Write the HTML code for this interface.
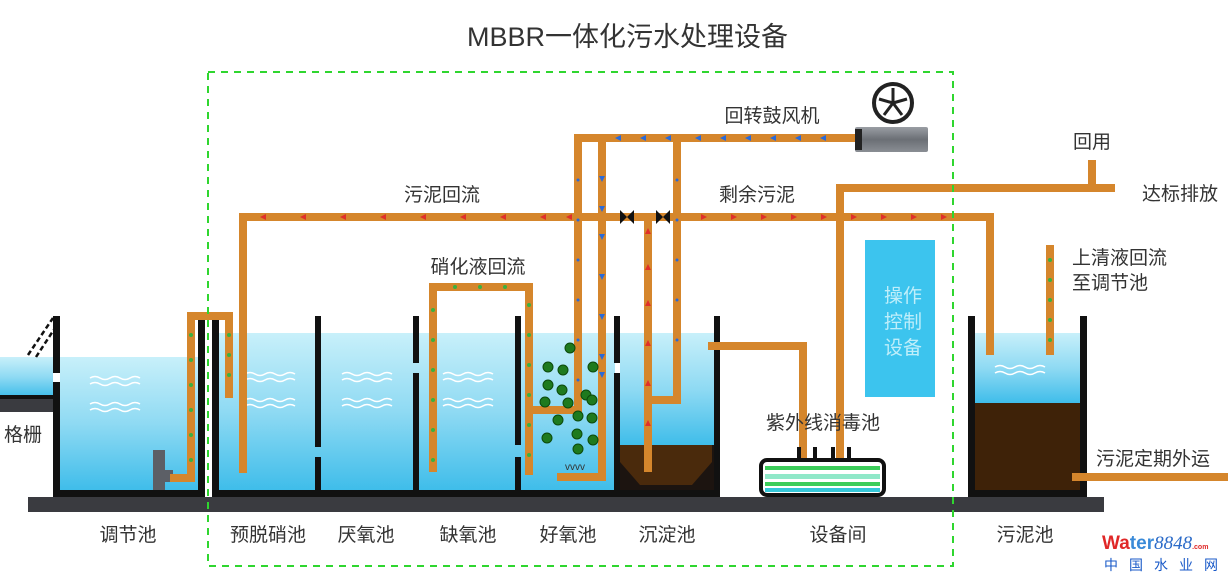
<!DOCTYPE html>
<html><head><meta charset="utf-8"><style>
html,body{margin:0;padding:0;background:#fff;}
svg{display:block;}
text{font-family:"Liberation Sans","Noto Sans CJK SC",sans-serif;fill:#333;}
</style></head><body>
<svg width="1230" height="579" viewBox="0 0 1230 579" xmlns="http://www.w3.org/2000/svg">
<defs>
<linearGradient id="w" x1="0" y1="0" x2="0" y2="1">
<stop offset="0" stop-color="#c8f0fa"/><stop offset="0.5" stop-color="#8fdaf3"/><stop offset="1" stop-color="#3fbdea"/>
</linearGradient>
<linearGradient id="bl" x1="0" y1="0" x2="0" y2="1">
<stop offset="0" stop-color="#9a9ea4"/><stop offset="0.5" stop-color="#6b6f75"/><stop offset="1" stop-color="#8a8e94"/>
</linearGradient>
</defs>
<rect width="1230" height="579" fill="#fff"/>
<text x="467" y="46" font-size="27" textLength="321" lengthAdjust="spacingAndGlyphs" fill="#2a2a2a">MBBR一体化污水处理设备</text>

<rect x="0" y="357" width="53" height="40" fill="url(#w)"/>
<rect x="60" y="357" width="138" height="133" fill="url(#w)"/>
<rect x="219" y="333" width="396" height="157" fill="url(#w)"/>
<rect x="620" y="333" width="95" height="112" fill="url(#w)"/>
<rect x="975" y="333" width="105" height="70" fill="url(#w)"/>
<rect x="620" y="445" width="95" height="45" fill="#1c1410"/>
<polygon points="620,445 712,445 712,462 692,485 640,485 620,462" fill="#4a2a0c"/>
<rect x="975" y="403" width="105" height="87" fill="#3e2208"/>

<rect x="28" y="497" width="1076" height="15" fill="#3a3b40"/>
<rect x="0" y="397" width="53" height="15" fill="#3a3b40"/>
<rect x="0" y="395" width="53" height="4" fill="#111"/>

<rect x="53" y="490" width="667" height="7" fill="#111"/>
<rect x="968" y="490" width="117" height="7" fill="#111"/>

<g fill="#111">
<rect x="53" y="316" width="7" height="57"/><rect x="53" y="382" width="7" height="115"/>
<rect x="198" y="316" width="7" height="181"/><rect x="212" y="316" width="7" height="181"/>
<rect x="315" y="316" width="6" height="131"/><rect x="315" y="457" width="6" height="40"/>
<rect x="413" y="316" width="6" height="47"/><rect x="413" y="373" width="6" height="124"/>
<rect x="515" y="316" width="6" height="129"/><rect x="515" y="457" width="6" height="40"/>
<rect x="614" y="316" width="6" height="47"/><rect x="614" y="373" width="6" height="124"/>
<rect x="714" y="316" width="6" height="181"/>
<rect x="968" y="316" width="7" height="181"/><rect x="1080" y="316" width="7" height="181"/>
</g>
<rect x="205" y="316" width="7" height="181" fill="#fff"/>
<g stroke="#111" stroke-width="2.5" stroke-dasharray="5,3"><line x1="28" y1="355" x2="53" y2="318"/><line x1="36" y1="357" x2="55" y2="328"/></g>

<g fill="none" stroke="#fff" stroke-width="1.6" opacity="0.9">
<path id="wv" d="M0,0 q5,-3 10,0 t10,0 t10,0 t10,0 t10,0"/>
</g>
<g fill="none" stroke="#fff" stroke-width="1.6">
<use href="#wv" x="90" y="378"/><use href="#wv" x="90" y="384"/><use href="#wv" x="90" y="404"/><use href="#wv" x="90" y="410"/>
<use href="#wv" x="245" y="374"/><use href="#wv" x="245" y="380"/><use href="#wv" x="245" y="400"/><use href="#wv" x="245" y="406"/>
<use href="#wv" x="342" y="374"/><use href="#wv" x="342" y="380"/><use href="#wv" x="342" y="400"/><use href="#wv" x="342" y="406"/>
<use href="#wv" x="443" y="374"/><use href="#wv" x="443" y="380"/><use href="#wv" x="443" y="400"/><use href="#wv" x="443" y="406"/>
<use href="#wv" x="995" y="367"/><use href="#wv" x="995" y="373"/>
</g>

<rect x="153" y="450" width="12" height="40" fill="#5c5f66"/><rect x="163" y="470" width="10" height="12" fill="#5c5f66"/>

<g fill="none" stroke="#d5862c" stroke-width="8" stroke-linejoin="miter">
<polyline points="170,478 191,478 191,316 229,316 229,398"/>
<polyline points="243,473 243,217 990,217 990,355"/>
<polyline points="433,472 433,287 529,287 529,475"/>
<polyline points="533,410 578,410 578,138 855,138"/>
<polyline points="557,477 602,477 602,138"/>
<polyline points="648,472 648,217"/>
<polyline points="650,400 677,400 677,138"/>
<polyline points="708,346 803,346 803,458"/>
<polyline points="840,458 840,188 1115,188"/>
<polyline points="1092,188 1092,160"/>
<polyline points="1050,245 1050,355"/>
<polyline points="1072,477 1228,477"/>
</g>
<g fill="#e0302a">
<polygon points="260,217 266,214 266,220"/><polygon points="300,217 306,214 306,220"/><polygon points="340,217 346,214 346,220"/><polygon points="380,217 386,214 386,220"/><polygon points="420,217 426,214 426,220"/><polygon points="460,217 466,214 466,220"/><polygon points="500,217 506,214 506,220"/><polygon points="540,217 546,214 546,220"/><polygon points="566,217 572,214 572,220"/>
<polygon points="707,217 701,214 701,220"/><polygon points="737,217 731,214 731,220"/><polygon points="767,217 761,214 761,220"/><polygon points="797,217 791,214 791,220"/><polygon points="827,217 821,214 821,220"/><polygon points="857,217 851,214 851,220"/><polygon points="887,217 881,214 881,220"/><polygon points="917,217 911,214 911,220"/><polygon points="947,217 941,214 941,220"/>
<polygon points="648,228 645,234 651,234"/><polygon points="648,264 645,270 651,270"/><polygon points="648,300 645,306 651,306"/><polygon points="648,340 645,346 651,346"/><polygon points="648,380 645,386 651,386"/><polygon points="648,420 645,426 651,426"/>
</g>
<g fill="#2a6ad8">
<polygon points="615,138 621,135 621,141"/><polygon points="640,138 646,135 646,141"/><polygon points="665,138 671,135 671,141"/><polygon points="695,138 701,135 701,141"/><polygon points="720,138 726,135 726,141"/><polygon points="745,138 751,135 751,141"/><polygon points="770,138 776,135 776,141"/><polygon points="795,138 801,135 801,141"/><polygon points="820,138 826,135 826,141"/>
<polygon points="602,182 599,176 605,176"/><polygon points="602,212 599,206 605,206"/><polygon points="602,240 599,234 605,234"/><polygon points="602,280 599,274 605,274"/><polygon points="602,320 599,314 605,314"/><polygon points="602,360 599,354 605,354"/><polygon points="602,378 599,372 605,372"/>
<circle cx="578" cy="180" r="1.5"/><circle cx="578" cy="220" r="1.5"/><circle cx="578" cy="260" r="1.5"/><circle cx="578" cy="300" r="1.5"/><circle cx="578" cy="340" r="1.5"/><circle cx="578" cy="380" r="1.5"/>
<circle cx="677" cy="180" r="1.5"/><circle cx="677" cy="220" r="1.5"/><circle cx="677" cy="260" r="1.5"/><circle cx="677" cy="300" r="1.5"/><circle cx="677" cy="340" r="1.5"/>
</g>
<g fill="#3bb040">
<circle cx="191" cy="335" r="2"/><circle cx="191" cy="360" r="2"/><circle cx="191" cy="385" r="2"/><circle cx="191" cy="410" r="2"/><circle cx="191" cy="435" r="2"/><circle cx="191" cy="460" r="2"/>
<circle cx="229" cy="335" r="2"/><circle cx="229" cy="355" r="2"/><circle cx="229" cy="375" r="2"/>
<circle cx="433" cy="310" r="2"/><circle cx="433" cy="340" r="2"/><circle cx="433" cy="370" r="2"/><circle cx="433" cy="400" r="2"/><circle cx="433" cy="430" r="2"/><circle cx="433" cy="460" r="2"/>
<circle cx="455" cy="287" r="2"/><circle cx="480" cy="287" r="2"/><circle cx="505" cy="287" r="2"/>
<circle cx="529" cy="305" r="2"/><circle cx="529" cy="335" r="2"/><circle cx="529" cy="365" r="2"/><circle cx="529" cy="395" r="2"/><circle cx="529" cy="425" r="2"/><circle cx="529" cy="455" r="2"/>
<circle cx="1050" cy="260" r="2"/><circle cx="1050" cy="280" r="2"/><circle cx="1050" cy="300" r="2"/><circle cx="1050" cy="320" r="2"/><circle cx="1050" cy="340" r="2"/>
</g>
<g fill="#1e7a1e" stroke="#0c4a0c" stroke-width="1">
<circle cx="570" cy="348" r="5"/><circle cx="548" cy="367" r="5"/><circle cx="563" cy="370" r="5"/><circle cx="593" cy="367" r="5"/><circle cx="548" cy="385" r="5"/><circle cx="562" cy="390" r="5"/><circle cx="545" cy="402" r="5"/><circle cx="568" cy="403" r="5"/><circle cx="586" cy="395" r="5"/><circle cx="592" cy="400" r="5"/><circle cx="558" cy="420" r="5"/><circle cx="578" cy="416" r="5"/><circle cx="592" cy="418" r="5"/><circle cx="547" cy="438" r="5"/><circle cx="577" cy="434" r="5"/><circle cx="578" cy="449" r="5"/><circle cx="593" cy="440" r="5"/>
</g>
<text x="575" y="470" font-size="10" text-anchor="middle" fill="#fff">vvvv</text>

<g fill="#111"><polygon points="620,210 634,224 634,210 620,224"/><polygon points="656,210 670,224 670,210 656,224"/></g>

<circle cx="893" cy="103" r="19" fill="#fff" stroke="#222" stroke-width="4"/>
<g stroke="#222" stroke-width="3"><line x1="893" y1="103" x2="893" y2="88"/><line x1="893" y1="103" x2="907" y2="99"/><line x1="893" y1="103" x2="902" y2="115"/><line x1="893" y1="103" x2="884" y2="115"/><line x1="893" y1="103" x2="879" y2="99"/></g>
<rect x="855" y="127" width="73" height="25" rx="2" fill="url(#bl)"/><rect x="855" y="129" width="7" height="21" fill="#222"/>

<rect x="865" y="240" width="70" height="157" fill="#3cc4ee"/>
<text x="903" y="302" font-size="19" text-anchor="middle" style="fill:#bfeefa">操作</text>
<text x="903" y="328" font-size="19" text-anchor="middle" style="fill:#bfeefa">控制</text>
<text x="903" y="354" font-size="19" text-anchor="middle" style="fill:#bfeefa">设备</text>

<g fill="#111"><rect x="797" y="447" width="4" height="13"/><rect x="813" y="447" width="4" height="13"/><rect x="831" y="447" width="4" height="13"/><rect x="847" y="447" width="4" height="13"/></g>
<rect x="761" y="460" width="123" height="35" rx="6" fill="#fff" stroke="#111" stroke-width="4"/>
<rect x="765" y="466" width="115" height="4" fill="#3ccd5a"/><rect x="765" y="474" width="115" height="5" fill="#8fe8c8"/><rect x="765" y="482" width="115" height="4" fill="#3ccd5a"/><rect x="765" y="488" width="115" height="4" fill="#35c7d8"/>

<rect x="208" y="72" width="745" height="494" fill="none" stroke="#2fd62f" stroke-width="2" stroke-dasharray="7,6"/>

<g font-size="19">
<text x="772" y="122" text-anchor="middle">回转鼓风机</text>
<text x="442" y="201" text-anchor="middle">污泥回流</text>
<text x="757" y="201" text-anchor="middle">剩余污泥</text>
<text x="478" y="273" text-anchor="middle">硝化液回流</text>
<text x="823" y="429" text-anchor="middle">紫外线消毒池</text>
<text x="1092" y="148" text-anchor="middle">回用</text>
<text x="1180" y="200" text-anchor="middle">达标排放</text>
<text x="1072" y="264">上清液回流</text>
<text x="1072" y="289">至调节池</text>
<text x="1096" y="465">污泥定期外运</text>
<text x="4" y="441">格栅</text>
<text x="128" y="541" text-anchor="middle">调节池</text>
<text x="268" y="541" text-anchor="middle">预脱硝池</text>
<text x="366" y="541" text-anchor="middle">厌氧池</text>
<text x="468" y="541" text-anchor="middle">缺氧池</text>
<text x="568" y="541" text-anchor="middle">好氧池</text>
<text x="667" y="541" text-anchor="middle">沉淀池</text>
<text x="838" y="541" text-anchor="middle">设备间</text>
<text x="1025" y="541" text-anchor="middle">污泥池</text>
</g>
<text x="1102" y="549" font-size="19" font-weight="bold"><tspan style="fill:#e02828">Wa</tspan><tspan style="fill:#3a8ad8">ter</tspan><tspan font-family="Liberation Serif" font-style="italic" font-weight="normal" style="fill:#2a6ac8">8848</tspan><tspan font-size="7" style="fill:#e02828">.com</tspan></text>
<text x="1104" y="570" font-size="14" style="fill:#1a5ac8" letter-spacing="11">中国水业网</text>
</svg>
</body></html>
